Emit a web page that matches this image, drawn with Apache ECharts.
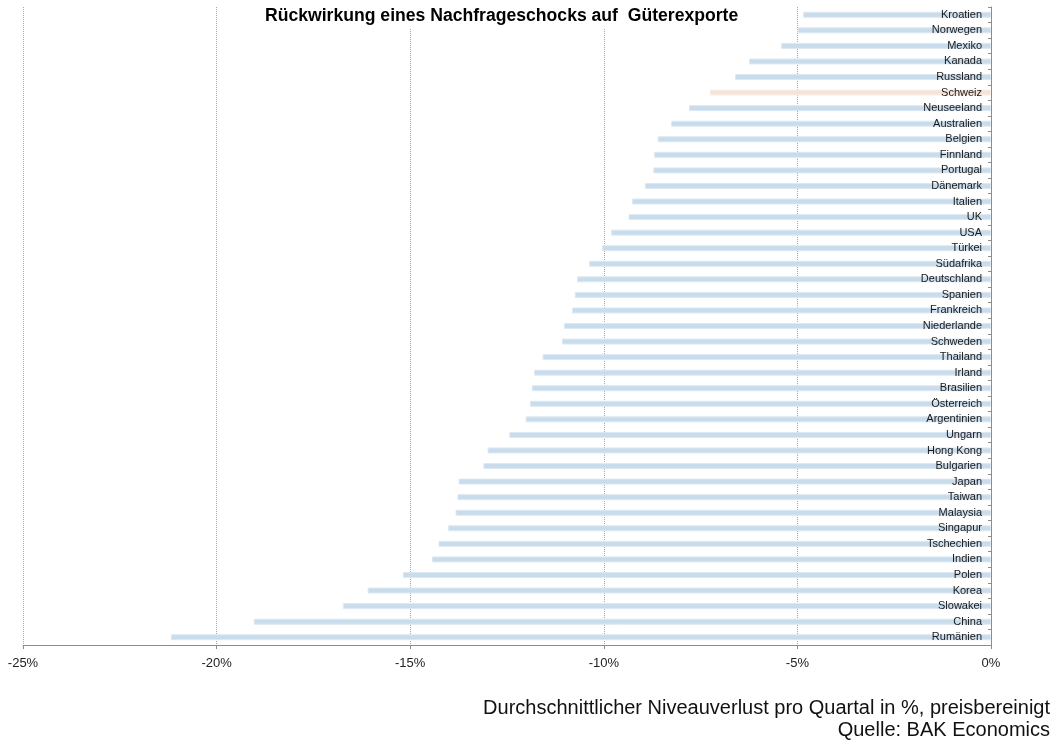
<!DOCTYPE html>
<html>
<head>
<meta charset="utf-8">
<script src="https://cdn.jsdelivr.net/npm/echarts@6/dist/echarts.min.js"></script>
<style>
  html, body { margin: 0; padding: 0; background: #fff; }
  #chart { width: 1057px; height: 745px; }
</style>
</head>
<body>
<div id="chart"></div>
<script>
// Länder von oben nach unten
const countries = [
  'Kroatien', 'Norwegen', 'Mexiko', 'Kanada', 'Russland', 'Schweiz', 'Neuseeland',
  'Australien', 'Belgien', 'Finnland', 'Portugal', 'Dänemark', 'Italien', 'UK', 'USA',
  'Türkei', 'Südafrika', 'Deutschland', 'Spanien', 'Frankreich', 'Niederlande',
  'Schweden', 'Thailand', 'Irland', 'Brasilien', 'Österreich', 'Argentinien', 'Ungarn',
  'Hong Kong', 'Bulgarien', 'Japan', 'Taiwan', 'Malaysia', 'Singapur', 'Tschechien',
  'Indien', 'Polen', 'Korea', 'Slowakei', 'China', 'Rumänien'
];
// Niveauverlust in %
const losses = [
  -4.85, -5.0, -5.42, -6.25, -6.61, -7.26, -7.80,
  -8.26, -8.61, -8.70, -8.72, -8.94, -9.27, -9.36, -9.81,
  -10.05, -10.38, -10.69, -10.75, -10.82, -11.03,
  -11.08, -11.58, -11.80, -11.86, -11.91, -12.02, -12.44,
  -13.00, -13.11, -13.75, -13.78, -13.83, -14.02, -14.27,
  -14.44, -15.19, -16.10, -16.74, -19.04, -21.18
];
const highlight = 'Schweiz';
const xMin = -25, xMax = 0, xStep = 5;

const chart = echarts.init(document.getElementById('chart'));

const option = {
  animation: false,
  title: {
    text: 'Rückwirkung eines Nachfrageschocks auf  Güterexporte',
    left: 259,
    top: 0,
    padding: [7, 6, 4, 6],
    backgroundColor: '#fff',
    textStyle: {
      fontFamily: 'Liberation Sans',
      fontWeight: 'bold',
      fontSize: 17.6,
      color: '#000'
    }
  },
  grid: { left: 23, right: 66, top: 7, bottom: 100 },
  xAxis: {
    type: 'value',
    min: xMin,
    max: xMax,
    interval: xStep,
    axisLine: { show: true, lineStyle: { color: '#8c8c8c', width: 1 } },
    axisTick: { show: true, length: 4, lineStyle: { color: '#8c8c8c' } },
    axisLabel: {
      formatter: v => v + '%',
      margin: 12,
      fontFamily: 'Liberation Sans',
      fontSize: 13,
      color: '#222'
    },
    splitLine: {
      show: true,
      lineStyle: { color: '#a6a6a6', type: [1, 1], width: 1 }
    }
  },
  yAxis: {
    type: 'category',
    data: countries,
    inverse: true,
    position: 'right',
    axisLine: { show: true, lineStyle: { color: '#8c8c8c' } },
    axisTick: { show: true, inside: true, length: 3, lineStyle: { color: '#8c8c8c' } },
    axisLabel: {
      inside: true,
      margin: 9,
      fontFamily: 'Liberation Sans',
      fontSize: 11,
      color: '#1a1a1a'
    },
    z: 5
  },
  series: [{
    type: 'bar',
    barWidth: 6,
    data: countries.map((c, i) => ({
      value: losses[i],
      itemStyle: {
        color: c === highlight ? '#f6e3d8' : '#c9dcec',
        borderColor: c === highlight ? '#faeee7' : '#dde9f4',
        borderWidth: 1
      }
    })),
    z: 2
  }],
  graphic: [
    {
      type: 'text',
      right: 7,
      top: 698,
      style: {
        text: 'Durchschnittlicher Niveauverlust pro Quartal in %, preisbereinigt',
        fontFamily: 'Liberation Sans',
        fontSize: 20,
        fill: '#111'
      }
    },
    {
      type: 'text',
      right: 7,
      top: 720,
      style: {
        text: 'Quelle: BAK Economics',
        fontFamily: 'Liberation Sans',
        fontSize: 20,
        fill: '#111'
      }
    }
  ]
};

chart.setOption(option);
</script>
</body>
</html>
